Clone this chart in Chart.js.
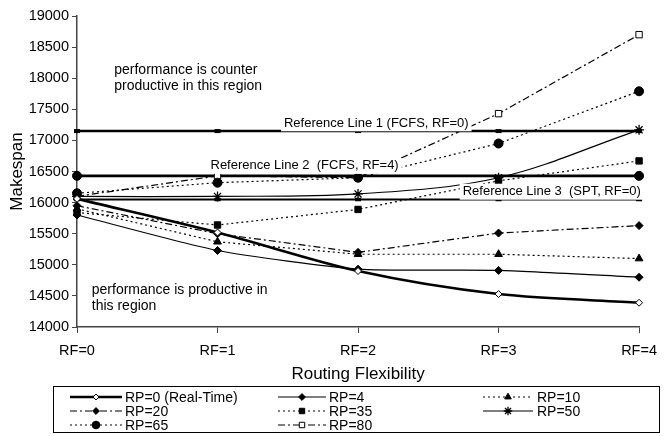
<!DOCTYPE html>
<html>
<head>
<meta charset="utf-8">
<script src="https://cdn.jsdelivr.net/npm/chart.js@4/dist/chart.umd.min.js"></script>
<style>
body{margin:0;background:#fff;}
#wrap{width:666px;height:436px;}
</style>
</head>
<body>
<div id="wrap"><canvas id="chart" width="666" height="436"></canvas></div>
<script>

let rfLabels = ["RF=0","RF=1","RF=2","RF=3","RF=4"];

let rp0  = [16060,15520,14900,14530,14390];
let rp4  = [15800,15230,14930,14910,14800];
let rp10 = [15900,15370,15170,15170,15100];
let rp20 = [15950,15500,15200,15510,15630];
let rp35 = [15840,15640,15890,16350,16670];
let rp50 = [16100,16100,16140,16400,17170];
let rp65 = [16150,16320,16400,16950,17790];
let rp80 = [16100,16430,16400,17430,18700];

let refLine1 = [17150,17150,17150,17150,17150];
let refLine2 = [16430,16430,16430,16430,16430];
let refLine3 = [16050,16050,16050,16050,16050];

let refTexts = ["Reference Line 1 (FCFS, RF=0)","Reference Line 2  (FCFS, RF=4)","Reference Line 3  (SPT, RF=0)"];
let topNote = ["performance is counter","productive in this region"];
let bottomNote = ["performance is productive in","this region"];

let FONT = "'Liberation Sans', Arial, sans-serif";

let dotted = [2,3];
let dashDot = [7,3,2,3];

function series(label,data,opt){
return Object.assign({
label:label,
data:data,
borderColor:"#000",
backgroundColor:"#000",
pointBorderColor:"#000",
pointBackgroundColor:"#000",
borderWidth:1.2,
pointRadius:4,
pointHoverRadius:4,
pointBorderWidth:1,
tension:0,
fill:false
},opt);
}

let datasets = [
series("RP=0 (Real-Time)",rp0,{borderWidth:2.6,pointStyle:"rectRot",pointRadius:3.5,pointBackgroundColor:"#fff",tension:0.3}),
series("RP=4",rp4,{pointStyle:"rectRot",tension:0.2}),
series("RP=10",rp10,{borderDash:dotted,pointStyle:"triangle",pointRadius:4.5}),
series("RP=20",rp20,{borderDash:dashDot,pointStyle:"rectRot"}),
series("RP=35",rp35,{borderDash:dotted,pointStyle:"rect",pointRadius:4.5}),
series("RP=50",rp50,{pointStyle:"star",pointRadius:5,pointBorderWidth:1.3,tension:0.35}),
series("RP=65",rp65,{borderDash:dotted,pointStyle:"circle",pointRadius:4.5}),
series("RP=80",rp80,{borderDash:dashDot,pointStyle:"rect",pointRadius:4.5,pointBackgroundColor:"#fff"}),
series("ref1",refLine1,{borderWidth:2.6,pointStyle:"line",pointRadius:3,pointBorderWidth:4}),
series("ref2",refLine2,{borderWidth:2.6,pointStyle:"circle",pointRadius:[4.5,0,0,0,4.5]}),
series("ref3",refLine3,{borderWidth:2,pointStyle:"line",pointRadius:3,pointBorderWidth:3.5})
];

// text notes and reference labels (white box behind, like the original)
let notesPlugin = {
id:"notes",
afterDatasetsDraw(chart){
let ctx = chart.ctx;
let x = chart.scales.x;
let y = chart.scales.y;
ctx.save();
ctx.fillStyle = "#000";
ctx.textBaseline = "middle";
ctx.textAlign = "left";

ctx.font = "13px " + FONT;
let refPos = [[1.473,17275],[0.95,16590],[2.745,16175]];
refTexts.forEach((t,i)=>{
let px = x.getPixelForValue(refPos[i][0]);
let py = y.getPixelForValue(refPos[i][1]);
let w = ctx.measureText(t).width;
ctx.fillStyle = "#fff";
ctx.fillRect(px-3,py-8,w+6,16);
ctx.fillStyle = "#000";
ctx.fillText(t,px,py);
});

ctx.font = "14px " + FONT;
topNote.forEach((t,i)=>{
ctx.fillText(t,x.getPixelForValue(0.265),y.getPixelForValue(18130-i*260));
});
bottomNote.forEach((t,i)=>{
ctx.fillText(t,x.getPixelForValue(0.105),y.getPixelForValue(14590-i*260));
});
ctx.restore();
}
};

// boxed legend, three columns
let legendPlugin = {
id:"boxLegend",
afterDraw(chart){
let ctx = chart.ctx;
ctx.save();
ctx.strokeStyle = "#000";
ctx.lineWidth = 1;
ctx.strokeRect(53.5,386.5,606,46);

let cols = [[70,122,125],[278,326,329],[483,533,537]];
let rows = [397,411,425];
ctx.font = "14px " + FONT;
ctx.textBaseline = "middle";
ctx.textAlign = "left";

for(let i=0;i<8;i++){
let ds = chart.data.datasets[i];
let c = cols[i%3];
let r = rows[Math.floor(i/3)];
ctx.strokeStyle = "#000";
ctx.lineWidth = ds.borderWidth;
ctx.setLineDash(ds.borderDash || []);
ctx.beginPath();
ctx.moveTo(c[0],r);
ctx.lineTo(c[1],r);
ctx.stroke();
ctx.setLineDash([]);
ctx.fillStyle = ds.pointBackgroundColor;
ctx.lineWidth = ds.pointBorderWidth;
Chart.helpers.drawPoint(ctx,{pointStyle:ds.pointStyle,radius:ds.pointRadius*0.85,rotation:0,borderWidth:ds.pointBorderWidth},(c[0]+c[1])/2,r);
ctx.fillStyle = "#000";
ctx.fillText(ds.label,c[2],r+1);
}
ctx.restore();
}
};

new Chart(document.getElementById("chart"),{
type:"line",
data:{
labels:rfLabels,
datasets:datasets
},
options:{
responsive:false,
animation:false,
layout:{padding:{left:0,right:16,top:16,bottom:51}},
plugins:{
legend:{display:false},
tooltip:{enabled:false}
},
scales:{
x:{
offset:false,
afterFit(s){ s.height = 58; },
grid:{drawOnChartArea:false,tickLength:6,color:"#444",tickColor:"#444"},
border:{color:"#444",width:1.5},
ticks:{color:"#000",font:{family:FONT,size:14.5},padding:9},
title:{display:true,text:"Routing Flexibility",color:"#000",font:{family:FONT,size:17},padding:{top:0,bottom:0}}
},
y:{
min:14000,
max:19000,
afterFit(s){ s.width = 77; },
grid:{drawOnChartArea:false,tickLength:5,color:"#444",tickColor:"#444"},
border:{color:"#444",width:1.5},
ticks:{stepSize:500,color:"#000",font:{family:FONT,size:14.5},padding:3,callback:v=>String(v)},
title:{display:true,text:"Makespan",color:"#000",font:{family:FONT,size:17},padding:{top:7,bottom:0}}
}
}
},
plugins:[notesPlugin,legendPlugin]
});

</script>
</body>
</html>
